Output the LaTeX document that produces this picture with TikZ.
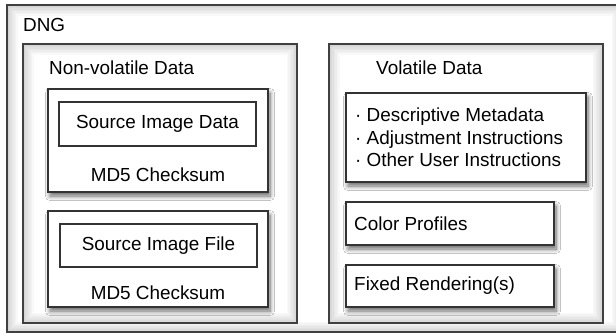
\documentclass[tikz,border=0pt]{standalone}
\usepackage{fontspec}
\setmainfont{Liberation Sans}
\usetikzlibrary{shadows.blur}

\tikzset{
  frame/.style={draw=black!75, line width=1.3pt},
  card/.style={draw=black!80, line width=1.3pt, fill=white,
    blur shadow={shadow xshift=2pt, shadow yshift=-4pt, shadow blur steps=8,
      shadow blur radius=4.5pt, shadow opacity=60}},
  inbox/.style={draw=black!80, line width=1.1pt, fill=white},
  title/.style={anchor=west, inner sep=0pt},
}

% soft gray rim on the inside of a frame
\newcommand{\rimframe}[2]{
  \begin{scope}
    \clip #1 rectangle #2;
    \foreach \w in {3,6,...,21}
      \draw[line width=\w pt, black, opacity=0.025] #1 rectangle #2;
  \end{scope}
  \draw[frame] #1 rectangle #2;
}

\begin{document}
\begin{tikzpicture}[x=1pt, y=-1pt, font=\fontsize{18.9}{22.5}\selectfont]
  \useasboundingbox (0,0) rectangle (616,335);
  \fill[white] (0,0) rectangle (616,335);

  % outer container and the two halves
  \rimframe{(7,5)}{(622,332)}
  \node[title] (dng) at (23,25) {DNG};

  \rimframe{(23,44)}{(297,323)}
  \node[title] (nonvol) at (49,68) {Non-volatile Data};

  \rimframe{(329,44)}{(603,323)}
  \node[title] (vol) at (376,68) {Volatile Data};

  % non-volatile part
  \node[card, minimum width=220, minimum height=103] (srcbox) at (158,140.5) {};
  \node[inbox, minimum width=197, minimum height=44] (srcdata) at (157.5,124) {Source Image Data};
  \node (sum1) at (158,175) {MD5 Checksum};

  \node[card, minimum width=220, minimum height=96] (filebox) at (158,259) {};
  \node[inbox, minimum width=197, minimum height=43] (srcfile) at (158.5,245.5) {Source Image File};
  \node (sum2) at (158,293) {MD5 Checksum};

  % volatile part
  \node[card, minimum width=240, minimum height=89] (meta) at (466,137.5) {};
  \node[title, align=left] (metatext) at (355,137.5)
    {· Descriptive Metadata\\· Adjustment Instructions\\· Other User Instructions};

  \node[card, minimum width=208, minimum height=43] (color) at (450,223.5) {};
  \node[title] at (354,223.5) {Color Profiles};

  \node[card, minimum width=208, minimum height=42] (fixed) at (450,286) {};
  \node[title] at (354,286) {Fixed Rendering(s)};
\end{tikzpicture}
\end{document}
